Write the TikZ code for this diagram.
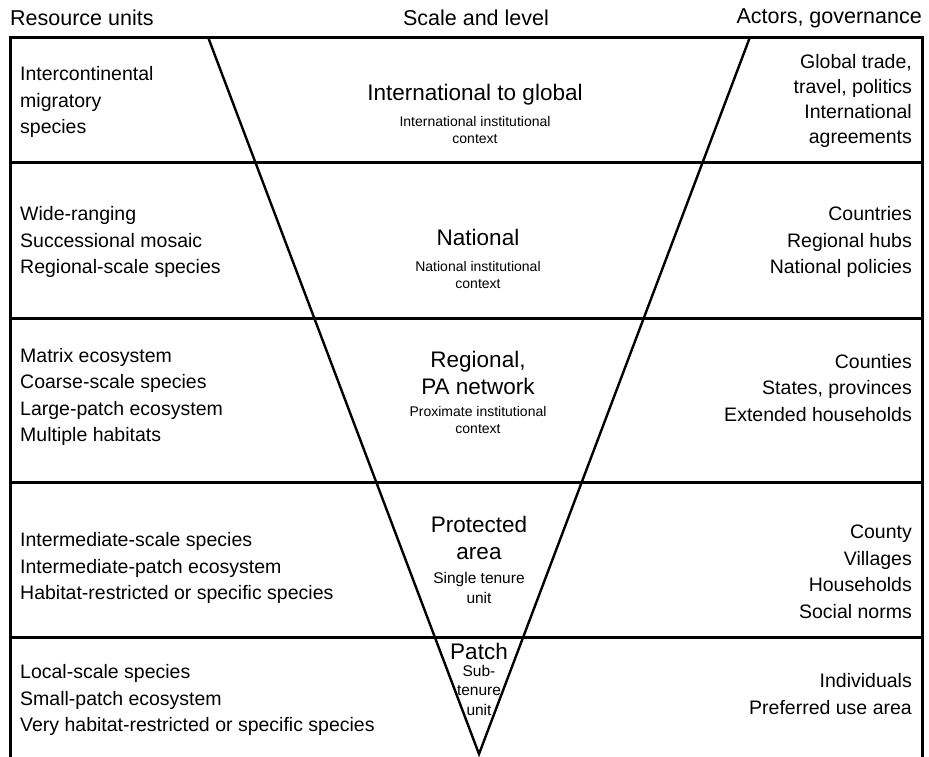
\documentclass[tikz,border=0pt]{standalone}
\usepackage{fontspec}
\setmainfont{Liberation Sans}
\begin{document}
\begin{tikzpicture}[x=1pt,y=-1pt,
  body/.style={font=\fontsize{19.5}{26.5}\selectfont, inner sep=0pt},
  lefttxt/.style={body, align=left, anchor=west},
  righttxt/.style={body, align=right, anchor=east},
  head/.style={font=\fontsize{21.5}{24}\selectfont, inner sep=0pt},
  big/.style={font=\fontsize{22.5}{26.5}\selectfont, inner sep=0pt, align=center},
  small/.style={font=\fontsize{14}{17}\selectfont, inner sep=0pt, align=center},
  mid/.style={font=\fontsize{15.5}{19.5}\selectfont, inner sep=0pt, align=center},
  rule/.style={line width=3pt},
  tri/.style={line width=2.4pt, line join=miter}]
\useasboundingbox (0,0) rectangle (929,756);
% frame
\coordinate (TL) at (10,37);
\coordinate (TR) at (922,37);
\coordinate (BL) at (10,760);
\coordinate (BR) at (922,760);
\coordinate (L1) at (10,162);  \coordinate (R1) at (922,162);
\coordinate (L2) at (10,318);  \coordinate (R2) at (922,318);
\coordinate (L3) at (10,482);  \coordinate (R3) at (922,482);
\coordinate (L4) at (10,637);  \coordinate (R4) at (922,637);
% triangle
\coordinate (TA) at (208,37);
\coordinate (TB) at (750,37);
\coordinate (TC) at (479,754);
\draw[tri] (TA) -- (TC) -- (TB);
\draw[rule] (BL) -- (TL) -- (TR) -- (BR);
\draw[rule] (L1) -- (R1);
\draw[rule] (L2) -- (R2);
\draw[rule] (L3) -- (R3);
\draw[rule] (L4) -- (R4);
% headers
\node[head, anchor=west] (h1) at (10,18) {Resource units};
\node[head] (h2) at (476,18) {Scale and level};
\node[head, anchor=east] (h3) at (922,18) {Actors, governance};
% row 1
\node[lefttxt] (l1) at (20,102) {Intercontinental\\migratory\\species};
\node[big] (c1) at (475,95) {International to global};
\node[small] (s1) at (475,130) {International institutional\\context};
\node[righttxt, font=\fontsize{19.5}{25}\selectfont] (r1) at (912,101) {Global trade,\\travel, politics\\International\\agreements};
% row 2
\node[lefttxt] (l2) at (20,242) {Wide-ranging\\Successional mosaic\\Regional-scale species};
\node[big] (c2) at (478,237) {National};
\node[small] (s2) at (478,275) {National institutional\\context};
\node[righttxt] (r2) at (912,242) {Countries\\Regional hubs\\National policies};
% row 3
\node[lefttxt] (l3) at (20,397) {Matrix ecosystem\\Coarse-scale species\\Large-patch ecosystem\\Multiple habitats};
\node[big] (c3) at (478,373) {Regional,\\PA network};
\node[small] (s3) at (478,420) {Proximate institutional\\context};
\node[righttxt] (r3) at (912,388) {Counties\\States, provinces\\Extended households};
% row 4
\node[lefttxt] (l4) at (20,568) {Intermediate-scale species\\Intermediate-patch ecosystem\\Habitat-restricted or specific species};
\node[big] (c4) at (479,538) {Protected\\area};
\node[mid] (s4) at (479,588) {Single tenure\\unit};
\node[righttxt] (r4) at (912,572) {County\\Villages\\Households\\Social norms};
% row 5
\node[lefttxt] (l5) at (20,700) {Local-scale species\\Small-patch ecosystem\\Very habitat-restricted or specific species};
\node[big] (c5) at (479,651) {Patch};
\node[mid] (s5) at (479,690) {Sub-\\tenure\\unit};
\node[righttxt] (r5) at (912,694) {Individuals\\Preferred use area};
\end{tikzpicture}
\end{document}
